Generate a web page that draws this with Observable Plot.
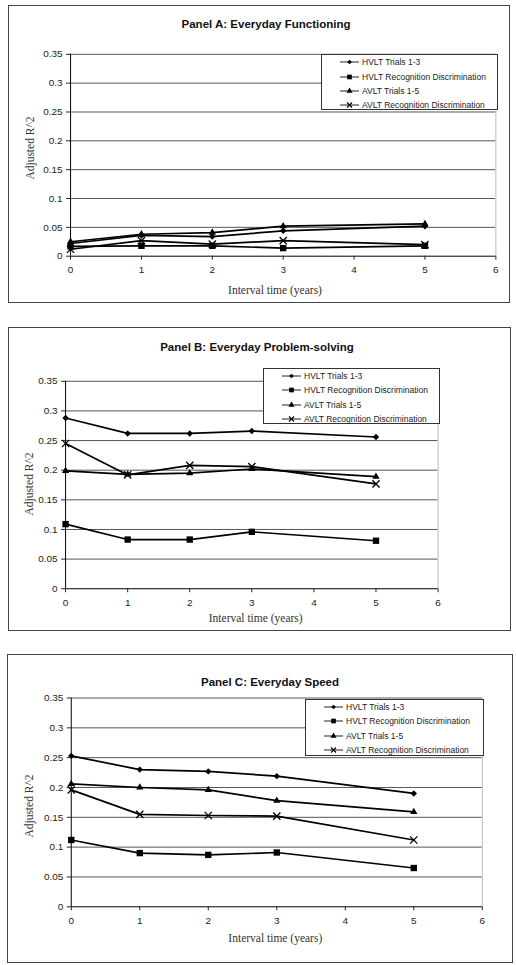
<!DOCTYPE html>
<html><head><meta charset="utf-8">
<script src="https://cdn.jsdelivr.net/npm/d3@7"></script>
<script src="https://cdn.jsdelivr.net/npm/@observablehq/plot@0.6"></script>
<style>
html,body{margin:0;padding:0;background:#fff;}
body{width:516px;height:965px;position:relative;overflow:hidden;font-family:Arial,"Liberation Sans",sans-serif;}
.panel{position:absolute;box-sizing:border-box;border:1px solid #444;background:#fff;}
.panel > svg{position:absolute;left:-1px;top:-1px;}
.ptitle{position:absolute;transform:translate(-50%,-50%);font-weight:bold;font-size:11.5px;color:#111;white-space:nowrap;}
.xlab{position:absolute;transform:translate(-50%,-50%);font-family:"Liberation Serif","Times New Roman",serif;font-size:11.5px;color:#333;white-space:nowrap;}
.ylab{position:absolute;transform:translate(-50%,-50%) rotate(-90deg);font-family:"Liberation Serif","Times New Roman",serif;font-size:11.5px;color:#333;white-space:nowrap;}
.legend{position:absolute;box-sizing:border-box;border:1px solid #333;background:#fff;}
.legend .row{position:absolute;left:0;height:12px;transform:translateY(-50%);}
.legend .row svg{position:absolute;left:18px;top:0;}
.legend .row span{position:absolute;left:40px;top:0;line-height:12px;font-size:8.5px;color:#222;white-space:nowrap;}
</style>
</head><body>
<script>
// ---- data ----
const years = [0, 1, 2, 3, 5];
const xTicks = [0, 1, 2, 3, 4, 5, 6];
const yTicks = [0, 0.05, 0.1, 0.15, 0.2, 0.25, 0.3, 0.35];
const seriesNames = ["HVLT Trials 1-3", "HVLT Recognition Discrimination", "AVLT Trials 1-5", "AVLT Recognition Discrimination"];
const seriesSymbols = ["diamond2", "square", "triangle", "times"];
const panelTitles = ["Panel A: Everyday Functioning", "Panel B: Everyday Problem-solving", "Panel C: Everyday Speed"];
const xLabel = "Interval time (years)";
const yLabel = "Adjusted R^2";

const panelA_hvltTrials = [0.022, 0.036, 0.034, 0.044, 0.052];
const panelA_hvltRecog  = [0.017, 0.018, 0.018, 0.014, 0.018];
const panelA_avltTrials = [0.025, 0.038, 0.041, 0.052, 0.056];
const panelA_avltRecog  = [0.012, 0.027, 0.021, 0.027, 0.020];

const panelB_hvltTrials = [0.288, 0.262, 0.262, 0.266, 0.256];
const panelB_hvltRecog  = [0.109, 0.083, 0.083, 0.096, 0.081];
const panelB_avltTrials = [0.199, 0.193, 0.195, 0.202, 0.189];
const panelB_avltRecog  = [0.245, 0.192, 0.208, 0.206, 0.177];

const panelC_hvltTrials = [0.253, 0.230, 0.227, 0.219, 0.190];
const panelC_hvltRecog  = [0.112, 0.090, 0.087, 0.091, 0.065];
const panelC_avltTrials = [0.206, 0.200, 0.196, 0.178, 0.159];
const panelC_avltRecog  = [0.196, 0.155, 0.153, 0.152, 0.112];

// ---- layout ----
const layouts = [
  {left:8, top:5, w:502, h:298, mt:49, mr:12.7, mb:46.3, ml:62.3, tx:257, ty:18, xlx:266, xly:284, ylx:21, yly:142, lg:{x:312, y:48, w:177, h:56}},
  {left:8, top:327, w:503, h:304, mt:54, mr:71.7, mb:41.7, ml:57.3, tx:248, ty:18.7, xlx:246.7, xly:289.7, ylx:20, yly:156, lg:{x:254, y:39.7, w:177, h:56.6}},
  {left:7, top:654, w:506, h:309, mt:43.7, mr:29.3, mb:55.7, ml:64, tx:262, ty:26.7, xlx:267.3, xly:282.7, ylx:21, yly:151, lg:{x:297, y:43.7, w:179, h:57.6}}
];
const panelValues = [
  [panelA_hvltTrials, panelA_hvltRecog, panelA_avltTrials, panelA_avltRecog],
  [panelB_hvltTrials, panelB_hvltRecog, panelB_avltTrials, panelB_avltRecog],
  [panelC_hvltTrials, panelC_hvltRecog, panelC_avltTrials, panelC_avltRecog]
];
const dotR = {diamond2: 2.9, square: 3.6, triangle: 2.7, times: 3.4};
const d3Sym = {diamond2: d3.symbolDiamond2, square: d3.symbolSquare, triangle: d3.symbolTriangle, times: d3.symbolTimes};
const legendSize = {diamond2: 14, square: 22, triangle: 16, times: 18};

function makePanel(cfg, values, title) {
  const data = [];
  seriesNames.forEach((name, i) => values[i].forEach((v, j) => data.push({series: name, year: years[j], value: v})));
  const box = document.createElement("div");
  box.className = "panel";
  Object.assign(box.style, {left: cfg.left + "px", top: cfg.top + "px", width: cfg.w + "px", height: cfg.h + "px"});

  const dots = seriesNames.map((name, i) => {
    const sym = seriesSymbols[i];
    const isStroke = sym === "times";
    return Plot.dot(data.filter(d => d.series === name), {
      x: "year", y: "value", symbol: sym, r: dotR[sym],
      fill: isStroke ? "none" : "#000", stroke: isStroke ? "#000" : "none", strokeWidth: 1.3
    });
  });

  const chart = Plot.plot({
    width: cfg.w, height: cfg.h,
    marginTop: cfg.mt, marginRight: cfg.mr, marginBottom: cfg.mb, marginLeft: cfg.ml,
    style: {fontFamily: "Arial, 'Liberation Sans', sans-serif", fontSize: "10px", color: "#222", background: "transparent", overflow: "visible"},
    x: {domain: [0, 6], label: null},
    y: {domain: [0, 0.35], label: null},
    marks: [
      Plot.ruleY(yTicks.slice(1), {stroke: "#555", strokeWidth: 1}),
      Plot.ruleX([6], {stroke: "#bbb", strokeWidth: 1}),
      Plot.line(data, {x: "year", y: "value", z: "series", stroke: "#000", strokeWidth: 1.7}),
      ...dots,
      Plot.ruleY([0], {stroke: "#000", strokeWidth: 1}),
      Plot.ruleX([0], {stroke: "#000", strokeWidth: 1}),
      Plot.axisX({ticks: xTicks, tickSize: 4, tickPadding: 6, tickFormat: d => String(d), label: null}),
      Plot.axisY({ticks: yTicks, tickSize: 4, tickPadding: 4, tickFormat: d => String(d), label: null})
    ]
  });
  box.appendChild(chart);

  const t = document.createElement("div"); t.className = "ptitle"; t.textContent = title;
  Object.assign(t.style, {left: cfg.tx + "px", top: cfg.ty + "px"}); box.appendChild(t);
  const xl = document.createElement("div"); xl.className = "xlab"; xl.textContent = xLabel;
  Object.assign(xl.style, {left: cfg.xlx + "px", top: cfg.xly + "px"}); box.appendChild(xl);
  const yl = document.createElement("div"); yl.className = "ylab"; yl.textContent = yLabel;
  Object.assign(yl.style, {left: cfg.ylx + "px", top: cfg.yly + "px"}); box.appendChild(yl);

  const lg = document.createElement("div"); lg.className = "legend";
  Object.assign(lg.style, {left: cfg.lg.x + "px", top: cfg.lg.y + "px", width: cfg.lg.w + "px", height: cfg.lg.h + "px"});
  seriesNames.forEach((name, i) => {
    const row = document.createElement("div"); row.className = "row";
    row.style.top = (7.3 + 14.3 * i) + "px";
    row.style.width = "100%";
    const sym = seriesSymbols[i];
    const isStroke = sym === "times";
    const path = d3.symbol(d3Sym[sym], legendSize[sym])();
    row.innerHTML = `<svg width="20" height="12" viewBox="0 0 20 12"><line x1="0" x2="19" y1="6" y2="6" stroke="#222" stroke-width="1"/><path transform="translate(9.5,6)" d="${path}" fill="${isStroke ? "none" : "#000"}" stroke="${isStroke ? "#000" : "none"}" stroke-width="1.1"/></svg><span>${name}</span>`;
    lg.appendChild(row);
  });
  box.appendChild(lg);
  document.body.appendChild(box);
}

layouts.forEach((cfg, i) => makePanel(cfg, panelValues[i], panelTitles[i]));
</script>
</body></html>
